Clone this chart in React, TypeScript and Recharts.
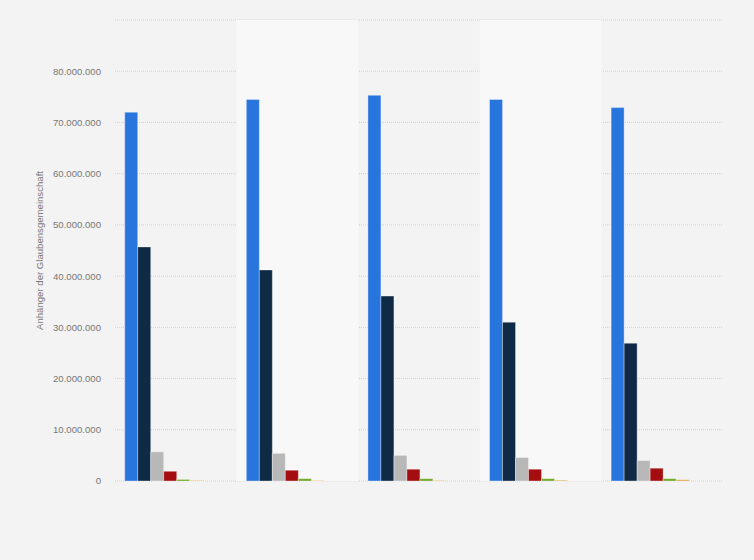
import React from 'react';
import { BarChart, Bar, XAxis, YAxis, CartesianGrid, ReferenceArea } from 'recharts';

const categories = ['1', '2', '3', '4', '5'];
const seriesA = [72000000, 74500000, 75300000, 74500000, 72900000];
const seriesB = [45700000, 41200000, 36100000, 31000000, 26900000];
const seriesC = [5700000, 5400000, 5000000, 4600000, 4000000];
const seriesD = [1900000, 2100000, 2300000, 2300000, 2500000];
const seriesE = [300000, 450000, 450000, 450000, 450000];
const seriesF = [100000, 100000, 100000, 150000, 250000];
const seriesG = [0, 0, 0, 0, 0];
const seriesH = [0, 0, 0, 0, 0];
const yTicks = [0, 10000000, 20000000, 30000000, 40000000, 50000000, 60000000, 70000000, 80000000, 90000000];

const seriesDefs = [
  { key: 'a', values: seriesA, color: '#2876dd' },
  { key: 'b', values: seriesB, color: '#0f2a44' },
  { key: 'c', values: seriesC, color: '#b8b8b8' },
  { key: 'd', values: seriesD, color: '#a50e10' },
  { key: 'e', values: seriesE, color: '#6ba51e' },
  { key: 'f', values: seriesF, color: '#d9a030' },
  { key: 'g', values: seriesG, color: '#8c5ac8' },
  { key: 'h', values: seriesH, color: '#36a9c9' },
];

const data = categories.map((cat, i) => {
  const row: Record<string, string | number> = { cat };
  seriesDefs.forEach((s) => {
    row[s.key] = s.values[i];
  });
  return row;
});

const fmt = (v: number) => {
  if (v === 90000000) return '';
  return String(v).replace(/\B(?=(\d{3})+(?!\d))/g, '.');
};

const FONT = 'Arial, "Liberation Sans", sans-serif';

export default function App() {
  return (
    <div style={{ position: 'absolute', left: 0, top: 0, width: 754, height: 560, background: '#f3f3f3' }}>
      <BarChart
        width={754}
        height={560}
        data={data}
        margin={{ top: 20, right: 31, bottom: 79, left: 0 }}
        barCategoryGap="8%"
        barGap={0}
      >
        <ReferenceArea x1="2" x2="2" fill="#f8f8f8" fillOpacity={1} stroke="none" />
        <ReferenceArea x1="4" x2="4" fill="#f8f8f8" fillOpacity={1} stroke="none" />
        <CartesianGrid vertical={false} stroke="#d2d2d2" strokeDasharray="1 1" />
        <XAxis dataKey="cat" tick={false} tickLine={false} axisLine={{ stroke: '#333333', strokeWidth: 1 }} height={0} />
        <YAxis
          width={115}
          domain={[0, 90000000]}
          ticks={yTicks}
          interval={0}
          tickFormatter={fmt}
          axisLine={false}
          tickLine={false}
          tickSize={0}
          tickMargin={14}
          tick={{ fill: '#777777', fontSize: 9.6, fontFamily: FONT }}
          label={{
            value: 'Anhänger der Glaubensgemeinschaft',
            angle: -90,
            position: 'center',
            dx: -18,
            style: { fill: '#777777', fontSize: 9.6, fontFamily: FONT },
          }}
        />
        {seriesDefs.map((s) => (
          <Bar
            key={s.key}
            dataKey={s.key}
            fill={s.color}
            stroke="#ffffff"
            strokeOpacity={0.35}
            strokeWidth={1}
            isAnimationActive={false}
          />
        ))}
      </BarChart>
    </div>
  );
}
